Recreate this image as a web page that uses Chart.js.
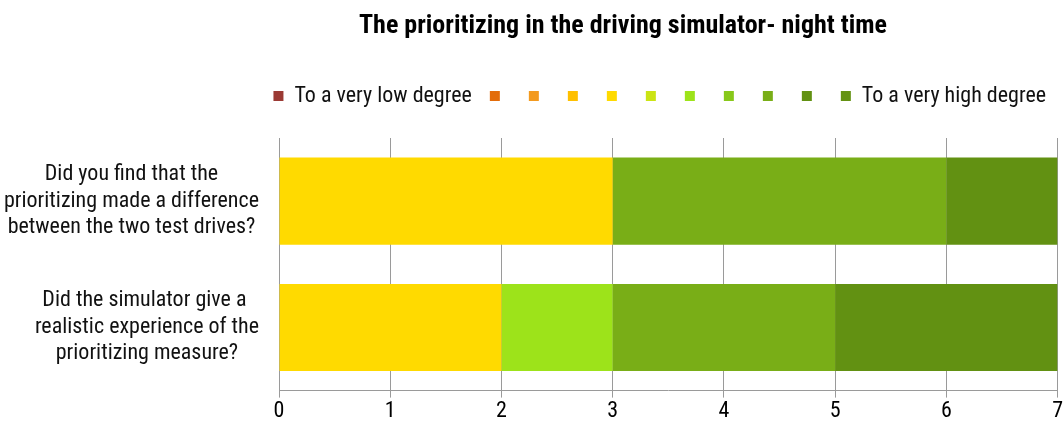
<!DOCTYPE html>
<html>
<head>
<meta charset="utf-8">
<script src="https://cdn.jsdelivr.net/npm/chart.js@4.4.0/dist/chart.umd.min.js"></script>
<style>
    html, body { margin: 0; padding: 0; background: #fff; }
    #wrap { width: 1064px; height: 427px; position: relative; }
</style>
</head>
<body>
<div id="wrap"><canvas id="chart"></canvas></div>
<script>
/* ======== Data ======== */
const questions = [
    ['Did you find that the', 'prioritizing made a difference', 'between the two test drives?'],
    ['Did the simulator give a ', 'realistic experience of the', 'prioritizing measure?']
];
const scaleLabels = ['To a very low degree', '', '', '', '', '', '', '', '', '', 'To a very high degree'];
// one array per step of the 11-point scale: [question 1, question 2]
const step1 = [0, 0];
const step2 = [0, 0];
const step3 = [0, 0];
const step4 = [0, 0];
const step5 = [3, 2];
const step6 = [0, 0];
const step7 = [0, 1];
const step8 = [0, 0];
const step9 = [3, 2];
const step10 = [1, 2];
const step11 = [0, 0];
const steps = [step1, step2, step3, step4, step5, step6, step7, step8, step9, step10, step11];
const xTicks = [0, 1, 2, 3, 4, 5, 6, 7];

/* ======== Palette ======== */
const scaleColors = ['#9b3a34', '#e36c0a', '#f39a1f', '#ffc000', '#ffda00', '#cbe414',
                     '#9de31a', '#88c81a', '#79ae17', '#629112', '#649213'];
const C = { text: '#111', grid: '#9a9a9a' };
const FONT = "'Roboto Condensed', 'Liberation Sans', sans-serif";

/* ======== Plugins ======== */
// Chart title, centred over the bars as in the original
const titlePlugin = {
    id: 'topTitle',
    afterDraw(chart) {
        const ctx = chart.ctx;
        ctx.save();
        ctx.font = "bold 26px " + FONT;
        ctx.fillStyle = '#000';
        ctx.textAlign = 'center';
        ctx.textBaseline = 'middle';
        ctx.fillText('The prioritizing in the driving simulator- night time', 623, 26);
        ctx.restore();
    }
};

// Category labels: each block right-aligned, its lines centred
const questionLabels = {
    id: 'questionLabels',
    afterDraw(chart) {
        const y = chart.scales.y;
        const ctx = chart.ctx;
        const lineH = 26.5;
        ctx.save();
        ctx.font = "22px " + FONT;
        ctx.fillStyle = C.text;
        ctx.textAlign = 'center';
        ctx.textBaseline = 'middle';
        questions.forEach((lines, i) => {
            const w = Math.max(...lines.map(l => ctx.measureText(l).width));
            const cx = chart.chartArea.left - 20 - w / 2;
            const cy = y.getPixelForTick(i);
            lines.forEach((l, j) => {
                ctx.fillText(l, cx, cy + (j - (lines.length - 1) / 2) * lineH);
            });
        });
        ctx.restore();
    }
};

/* ======== Chart ======== */
const datasets = steps.map((vals, i) => ({
    label: scaleLabels[i],
    data: vals,
    backgroundColor: scaleColors[i],
    borderWidth: 0,
    barPercentage: 0.69,
    categoryPercentage: 1
}));

new Chart(document.getElementById('chart'), {
    type: 'bar',
    data: { labels: questions, datasets },
    options: {
        indexAxis: 'y',
        responsive: true,
        maintainAspectRatio: false,
        animation: false,
        layout: { padding: { top: 67, right: 0, bottom: 1, left: 0 } },
        plugins: {
            tooltip: { enabled: false },
            subtitle: { display: true, text: '', weight: 500, padding: 0,
                        font: { size: 21, lineHeight: 1 } },
            legend: {
                align: 'end',
                labels: {
                    boxWidth: 10, boxHeight: 10, padding: 18,
                    color: C.text,
                    font: { family: FONT, size: 22 }
                }
            }
        },
        scales: {
            x: {
                stacked: true,
                min: 0, max: 7,
                afterBuildTicks: (s) => { s.ticks = xTicks.map(v => ({ value: v })); },
                grid: { color: C.grid, tickLength: 7, tickColor: C.grid },
                border: { color: C.grid },
                ticks: { color: '#000', padding: 1, font: { family: FONT, size: 22 } }
            },
            y: {
                stacked: true,
                afterFit: (s) => { s.width = 279; },
                grid: { display: false },
                border: { display: false },
                ticks: { display: false }
            }
        }
    },
    plugins: [titlePlugin, questionLabels]
});
</script>
</body>
</html>
